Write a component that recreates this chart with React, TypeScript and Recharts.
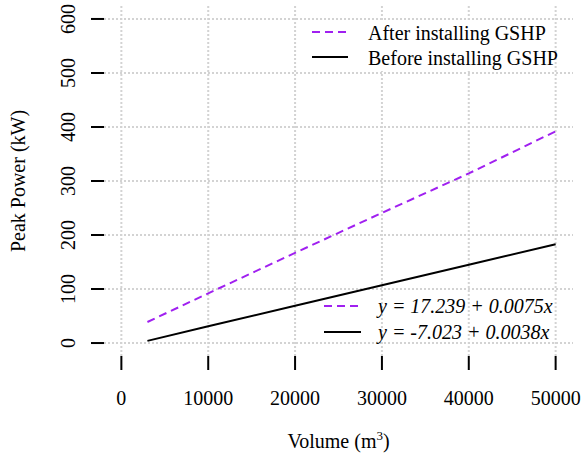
import { LineChart, Line, XAxis, YAxis, ReferenceLine, Label } from 'recharts';

const volumes = [3000, 10000, 20000, 30000, 40000, 50000];
const afterGSHP = [39, 92, 167, 241, 314, 392];
const beforeGSHP = [4, 31, 69, 107, 145, 183];
const xTicks = [0, 10000, 20000, 30000, 40000, 50000];
const yTicks = [0, 100, 200, 300, 400, 500, 600];
const seriesNames = ['After installing GSHP', 'Before installing GSHP'];
const fitLabels = ['y = 17.239 + 0.0075x', 'y = -7.023 + 0.0038x'];

const data = volumes.map((v, i) => ({ volume: v, after: afterGSHP[i], before: beforeGSHP[i] }));

const X_DOMAIN = [-2000, 52000];
const Y_DOMAIN = [-24, 624];

const FONT = '"Liberation Serif", "Times New Roman", serif';
const PURPLE = '#a020f0';
const GRID = { stroke: '#d3d3d3', strokeWidth: 2, strokeDasharray: '2 2' };

function XTick(props: any) {
  const { x, y, payload } = props;
  return (
    <text x={x} y={y + 26} dy="0.35em" textAnchor="middle" fontFamily={FONT} fontSize={20} fill="#000">
      {payload.value}
    </text>
  );
}

function YTick(props: any) {
  const { x, y, payload } = props;
  const cx = x - 21;
  return (
    <text x={cx} y={y} dy="0.35em" textAnchor="middle" transform={`rotate(-90 ${cx} ${y})`}
      fontFamily={FONT} fontSize={20} fill="#000">
      {payload.value}
    </text>
  );
}

function XTitle(props: any) {
  const vb = props.viewBox;
  return (
    <text x={vb.x + vb.width / 2} y={vb.y + 92} textAnchor="middle" fontFamily={FONT} fontSize={20} fill="#000">
      <tspan>Volume (m</tspan>
      <tspan fontSize={13} dy={-8}>3</tspan>
      <tspan dy={8}>)</tspan>
    </text>
  );
}

function YTitle(props: any) {
  const vb = props.viewBox;
  const x = vb.x + 25;
  const y = vb.y + vb.height / 2;
  return (
    <text x={x} y={y} textAnchor="middle" transform={`rotate(-90 ${x} ${y})`} fontFamily={FONT} fontSize={20} fill="#000">
      Peak Power (kW)
    </text>
  );
}

export default function App() {
  return (
    <div style={{ position: 'absolute', left: 0, top: 0, width: 582, height: 457, background: '#fff' }}>
      <LineChart width={582} height={457} data={data} margin={{ top: 6, right: 9, left: 0, bottom: 0 }}>
        <XAxis dataKey="volume" type="number" domain={X_DOMAIN} ticks={xTicks} allowDataOverflow
          height={101} axisLine={false} tickSize={14} tickLine={{ stroke: '#000', strokeWidth: 2 }} tick={<XTick />}>
          <Label content={<XTitle />} />
        </XAxis>
        <YAxis type="number" domain={Y_DOMAIN} ticks={yTicks} allowDataOverflow
          width={104} axisLine={false} tickSize={13} tickLine={{ stroke: '#000', strokeWidth: 2 }} tick={<YTick />}>
          <Label content={<YTitle />} />
        </YAxis>
        {/* dotted grid at the tick values only */}
        {xTicks.map((t) => <ReferenceLine key={'gx' + t} x={t} {...GRID} />)}
        {yTicks.map((t) => <ReferenceLine key={'gy' + t} y={t} {...GRID} />)}
        <Line dataKey="after" stroke={PURPLE} strokeWidth={2} strokeDasharray="8 5" dot={false} isAnimationActive={false} />
        <Line dataKey="before" stroke="#000" strokeWidth={2} dot={false} isAnimationActive={false} />
      </LineChart>
      <svg width={582} height={457} style={{ position: 'absolute', left: 0, top: 0, pointerEvents: 'none' }}>
        <rect x={300} y={21} width={252} height={50} fill="#fff" />
        <line x1={312} y1={32} x2={348} y2={32} stroke={PURPLE} strokeWidth={2} strokeDasharray="8 5" />
        <text x={368} y={40} fontFamily={FONT} fontSize={20} fill="#000">{seriesNames[0]}</text>
        <line x1={312} y1={57} x2={348} y2={57} stroke="#000" strokeWidth={2} />
        <text x={368} y={65} fontFamily={FONT} fontSize={20} fill="#000">{seriesNames[1]}</text>
        <line x1={324} y1={306} x2={361} y2={306} stroke={PURPLE} strokeWidth={2} strokeDasharray="8 5" />
        <text x={378} y={313} fontFamily={FONT} fontSize={20} fontStyle="italic" fill="#000">{fitLabels[0]}</text>
        <line x1={324} y1={332} x2={361} y2={332} stroke="#000" strokeWidth={2} />
        <text x={378} y={339} fontFamily={FONT} fontSize={20} fontStyle="italic" fill="#000">{fitLabels[1]}</text>
      </svg>
    </div>
  );
}
